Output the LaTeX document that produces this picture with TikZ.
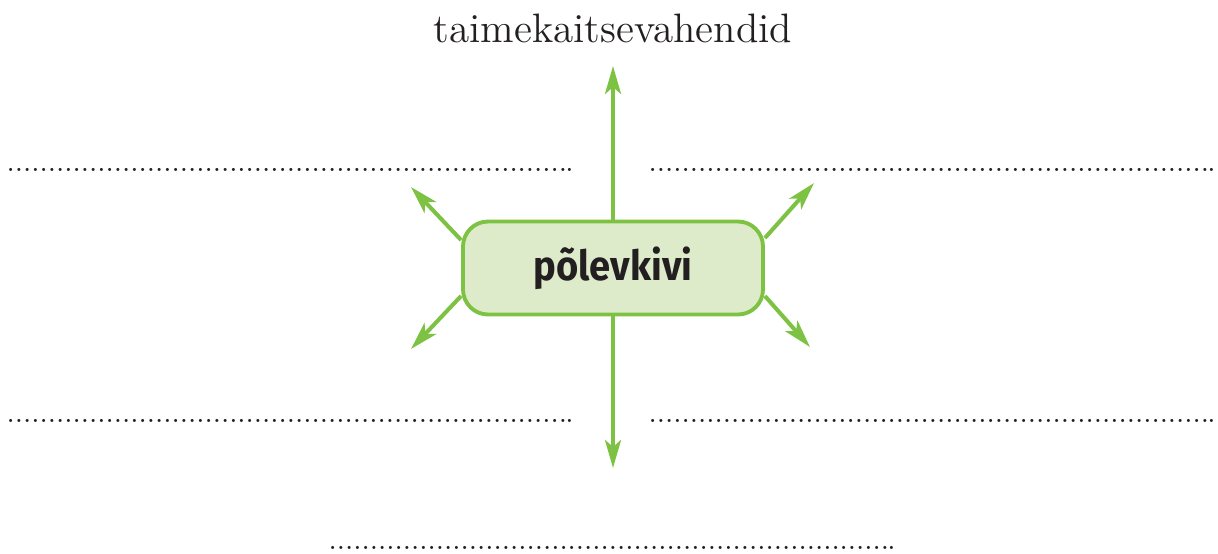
\documentclass[tikz,border=0pt]{standalone}
\usepackage{fontspec}
\newfontfamily\boxfont{Fira Sans}[FakeStretch=0.92]
\usetikzlibrary{positioning, arrows.meta}

\definecolor{leafgreen}{RGB}{125,194,66}
\definecolor{leaflight}{RGB}{222,235,202}
\definecolor{inkgray}{RGB}{35,31,32}

% Row of dots for writing in
\newcommand{\blankline}{\foreach \i in {1,...,68}{.}\hspace{-0.5pt}.}

\begin{document}
\begin{tikzpicture}[
    % Styles
    source/.style={draw=leafgreen, fill=leaflight, line width=1.1pt, rounded corners=0.25cm, minimum width=3cm, minimum height=0.93cm, text=inkgray, font=\boxfont\bfseries\fontsize{11.8}{14}\selectfont},
    arrow/.style={-{Stealth[length=2.8mm, width=1.6mm, inset=0.7mm]}, line width=1.15pt, leafgreen},
    title/.style={text=inkgray, inner sep=0pt, font=\fontsize{11.7}{14}\selectfont},
    blank/.style={text=inkgray, inner sep=0pt, anchor=base west, font=\fontsize{7.95}{10}\selectfont},
]
\useasboundingbox (0,0) rectangle (12.18,5.53);

% Centre box
\node[source] (box) at (6.13,2.85) {põlevkivi};

% Title
\node[title, anchor=base] (title) at (6.13,5.11) {taimekaitsevahendid};

% Arrow ends
\coordinate (upTip) at (6.13,4.87);
\coordinate (downTip) at (6.13,0.85);
\coordinate (ulTip) at (4.11,3.66);
\coordinate (urTip) at (8.14,3.70);
\coordinate (llTip) at (4.11,2.04);
\coordinate (lrTip) at (8.10,2.06);

\draw[arrow] (box.north) -- (upTip);
\draw[arrow] (box.south) -- (downTip);
\draw[arrow] ([yshift=0.28cm]box.west) -- (ulTip);
\draw[arrow] ([yshift=0.30cm]box.east) -- (urTip);
\draw[arrow] ([yshift=-0.28cm]box.west) -- (llTip);
\draw[arrow] ([yshift=-0.28cm]box.east) -- (lrTip);

% Lines to fill in
\node[blank] (blankUL) at (0.06,3.815) {\blankline};
\node[blank] (blankUR) at (6.48,3.815) {\blankline};
\node[blank] (blankLL) at (0.06,1.305) {\blankline};
\node[blank] (blankLR) at (6.48,1.305) {\blankline};
\node[blank] (blankB) at (3.28,0.035) {\blankline};

\end{tikzpicture}
\end{document}
